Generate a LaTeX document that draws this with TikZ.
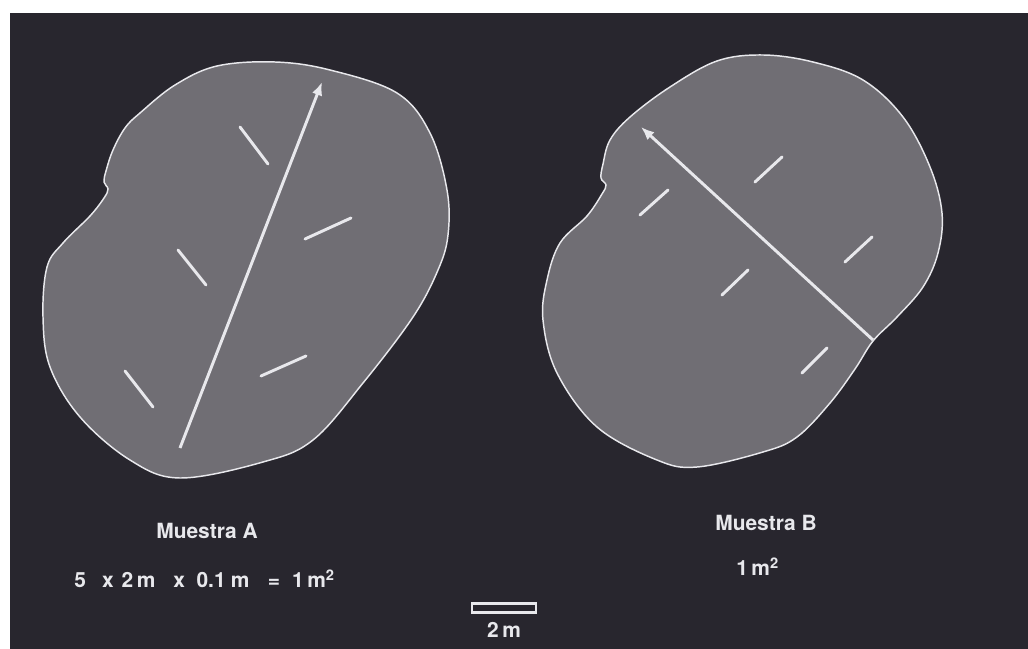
\documentclass[tikz,border=0pt]{standalone}
\usepackage{fontspec}
\setmainfont{TeX Gyre Heros}
\usepackage{xcolor}
\usepackage{tikz}
\usetikzlibrary{arrows.meta,positioning}
\definecolor{bgdark}{RGB}{40,38,46}
\definecolor{blobgray}{RGB}{112,110,116}
\definecolor{chalk}{RGB}{232,232,236}
\tikzset{
  sampleblob/.style={draw=chalk, line width=1.1pt, fill=blobgray},
  transect/.style={draw=chalk, line width=2.2pt, -{Latex[length=10pt,width=8pt]}},
  stripline/.style={draw=chalk, line width=2.2pt, line cap=round},
  samplelbl/.style={text=chalk, font=\fontsize{15.7}{19}\selectfont\bfseries, inner sep=0pt},
  scalebar/.style={rectangle, draw=chalk, line width=1.8pt, fill=bgdark, minimum width=48pt, minimum height=7pt, inner sep=0pt}
}

\begin{document}
\begin{tikzpicture}[x=0.75pt,y=-0.75pt]
\useasboundingbox (0,0) rectangle (1028,649);
\fill[white] (0,0) rectangle (1028,649);
\fill[bgdark] (10,13) rectangle (1028,649);
% Muestra A
\draw[sampleblob] plot[smooth cycle, tension=0.6] coordinates {
  (140,113) (175,85) (217,66) (275,62) (330,70) (397,93) (430,133) (447,190)
  (448,235) (438,270) (413,317) (363,383) (313,440) (263,462) (180,478) (130,460)
  (80,417) (50,367) (43,317) (47,267) (63,243) (90,216) (104,198) (108,189)
  (104,182) (106,171) (113,150) (125,128)};
\draw[transect] (180,448) -- (322,82);
\foreach \xa/\ya/\xb/\yb in {240/127/268/164, 305/239/351/218, 178/250/206/285,
  261/376/306/356, 125/371/153/407}
  \draw[stripline] (\xa,\ya) -- (\xb,\yb);
% Muestra B
\draw[sampleblob] plot[smooth cycle, tension=0.6] coordinates {
  (630,117) (670,87) (717,61) (763,55) (813,62) (863,80) (903,117) (930,167)
  (942,213) (938,253) (923,287) (897,317) (873,341) (855,369) (830,403) (797,437)
  (763,452) (697,467) (657,460) (597,427) (557,373) (543,320) (547,280) (560,243)
  (587,216) (602,194) (606,185) (601,178) (603,164) (610,140)};
\draw[transect] (873,340) -- (641,127);
\foreach \xa/\ya/\xb/\yb in {755/182/782/157, 640/215/668/190, 845/262/872/237,
  722/295/748/270, 802/373/827/348}
  \draw[stripline] (\xa,\ya) -- (\xb,\yb);
% labels
\node[samplelbl, anchor=base] (labA) at (207,538) {Muestra A};
\node[samplelbl, anchor=base west] (areaA) at (74,587)
  {5\hspace{0.77em}x\hspace{0.38em}2\hspace{0.17em}m\hspace{0.86em}x\hspace{0.55em}0.1\hspace{0.25em}m\hspace{0.88em}=\hspace{0.57em}1\hspace{0.17em}m\textsuperscript{2}};
\node[samplelbl, anchor=base] (labB) at (766,530) {Muestra B};
\node[samplelbl, anchor=base west] (areaB) at (736,575) {1\hspace{0.17em}m\textsuperscript{2}};
% scale bar
\node[scalebar] (bar) at (504,608) {};
\node[samplelbl, below=6pt of bar] (barlbl) {2\hspace{0.17em}m};
\end{tikzpicture}
\end{document}
